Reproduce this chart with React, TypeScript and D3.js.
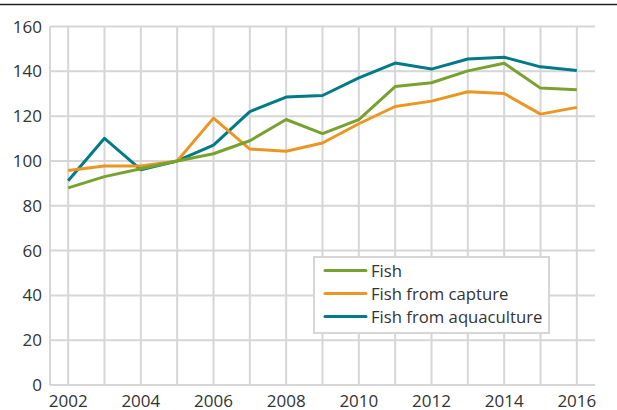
import React, { useEffect, useRef } from "react"
import * as d3 from "d3"

const years = [2002, 2003, 2004, 2005, 2006, 2007, 2008, 2009, 2010, 2011, 2012, 2013, 2014, 2015, 2016]
const fish = [88, 93, 96.5, 100, 103.2, 109, 118.5, 112.2, 118.4, 133.2, 134.9, 140.2, 143.6, 132.5, 131.8]
const fishCapture = [95.7, 97.7, 97.7, 100, 119.1, 105.3, 104.3, 108, 116.6, 124.3, 126.7, 130.9, 130.1, 120.9, 123.9]
const fishAquaculture = [91.2, 110.1, 96.1, 100, 107.1, 122, 128.5, 129.2, 137.1, 143.7, 141, 145.5, 146.3, 142, 140.4]
const yTicks = [0, 20, 40, 60, 80, 100, 120, 140, 160]
const xTicks = [2002, 2004, 2006, 2008, 2010, 2012, 2014, 2016]

const seriesNames = ["Fish", "Fish from capture", "Fish from aquaculture"]
const seriesValues = [fish, fishCapture, fishAquaculture]
const colors = ["#78a22f", "#eb9623", "#007a87"]

const width = 617
const height = 410
const margin = { top: 26.5, right: 22, bottom: 25, left: 50 }
const font = "'Open Sans', 'Noto Sans', sans-serif"

const App = () => {
	const svgRef = useRef<SVGSVGElement>(null)

	useEffect(() => {
		const svg = d3.select(svgRef.current)
		svg.selectAll("*").remove()

		const x = d3
			.scaleLinear()
			.domain([years[0] - 0.5, years[years.length - 1] + 0.5])
			.range([margin.left, width - margin.right])
		const y = d3
			.scaleLinear()
			.domain([0, 160])
			.range([height - margin.bottom, margin.top])

		// top rule
		svg.append("line")
			.attr("x1", 0)
			.attr("x2", width)
			.attr("y1", 4.5)
			.attr("y2", 4.5)
			.attr("stroke", "#222")
			.attr("stroke-width", 1.6)

		const grid = svg.append("g").attr("stroke", "#d6d6d6").attr("stroke-width", 2)
		// horizontal grid
		grid.selectAll(".h")
			.data(yTicks)
			.join("line")
			.attr("x1", x.range()[0])
			.attr("x2", x.range()[1])
			.attr("y1", (d) => y(d))
			.attr("y2", (d) => y(d))
		// vertical grid, one per year
		grid.selectAll(".v")
			.data(years)
			.join("line")
			.attr("class", "v")
			.attr("x1", (d) => x(d))
			.attr("x2", (d) => x(d))
			.attr("y1", y(160))
			.attr("y2", y(0))
		// left axis line
		grid.append("line")
			.attr("x1", x.range()[0])
			.attr("x2", x.range()[0])
			.attr("y1", y(160))
			.attr("y2", y(0))

		// y labels
		svg.append("g")
			.selectAll("text")
			.data(yTicks)
			.join("text")
			.attr("x", 42)
			.attr("y", (d) => y(d))
			.attr("dy", "0.36em")
			.attr("text-anchor", "end")
			.attr("font-family", font)
			.attr("font-size", 17)
			.attr("fill", "#333")
			.text((d) => d)

		// x labels
		svg.append("g")
			.selectAll("text")
			.data(xTicks)
			.join("text")
			.attr("x", (d) => x(d))
			.attr("y", 406.5)
			.attr("text-anchor", "middle")
			.attr("font-family", font)
			.attr("font-size", 17)
			.attr("fill", "#333")
			.text((d) => d)

		const line = d3
			.line<number>()
			.x((_, i) => x(years[i]))
			.y((d) => y(d))

		// paint aquaculture first, green on top
		const order = [2, 1, 0]
		svg.append("g")
			.selectAll("path")
			.data(order)
			.join("path")
			.attr("d", (k) => line(seriesValues[k]))
			.attr("fill", "none")
			.attr("stroke", (k) => colors[k])
			.attr("stroke-width", 3)
			.attr("stroke-linejoin", "round")

		// legend
		const lg = svg.append("g").attr("transform", "translate(314, 257)")
		lg.append("rect")
			.attr("width", 235)
			.attr("height", 76)
			.attr("fill", "white")
			.attr("stroke", "#d6d6d6")
			.attr("stroke-width", 2)
		const item = lg
			.selectAll(".item")
			.data(seriesNames)
			.join("g")
			.attr("transform", (_, i) => `translate(0, ${13.5 + i * 23})`)
		item.append("line")
			.attr("x1", 11)
			.attr("x2", 52)
			.attr("stroke", (_, i) => colors[i])
			.attr("stroke-width", 3)
			.attr("stroke-linecap", "round")
		item.append("text")
			.attr("x", 57)
			.attr("dy", "0.36em")
			.attr("font-family", font)
			.attr("font-size", 16.7)
			.attr("fill", "#333")
			.text((d) => d)
	}, [])

	return (
		<svg
			ref={svgRef}
			width={width}
			height={height}
			style={{ position: "absolute", left: 0, top: 0, background: "white" }}
		/>
	)
}

export default App
